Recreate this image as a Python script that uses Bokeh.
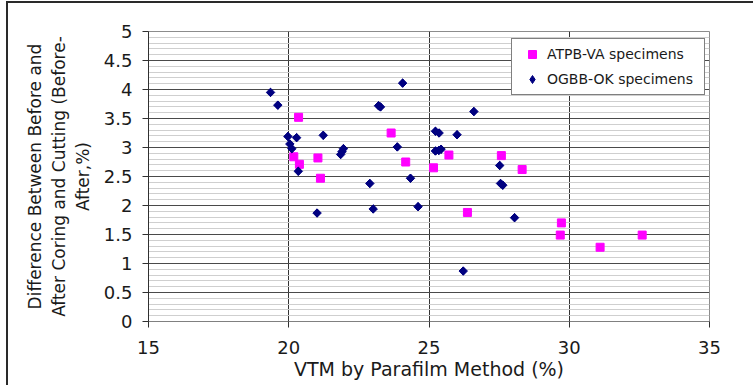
import numpy as np
from bokeh.plotting import figure
from bokeh.layouts import column
from bokeh.models import FixedTicker, Legend, LegendItem, Div
from bokeh.embed import file_html
from bokeh.resources import INLINE

# ATPB-VA specimens (pink squares)
atpb_x = [20.35, 20.18, 20.38, 21.04, 21.13, 23.65, 24.17, 25.16, 25.71, 27.58,
          28.32, 26.37, 29.72, 29.68, 31.10, 32.60]
atpb_y = [3.52, 2.84, 2.71, 2.82, 2.47, 3.25, 2.75, 2.65, 2.87, 2.86,
          2.62, 1.88, 1.70, 1.49, 1.28, 1.49]

# OGBB-OK specimens (navy diamonds)
ogbb_x = [19.35, 19.61, 19.97, 20.28, 20.04, 20.11, 20.34, 21.23, 21.85, 21.90,
          21.95, 23.20, 23.27, 24.06, 23.87, 25.23, 25.36, 25.23, 25.35, 25.43,
          26.00, 26.60, 27.52, 24.34, 22.89, 21.01, 23.01, 24.61, 27.55, 27.63,
          28.05, 26.22]
ogbb_y = [3.95, 3.73, 3.19, 3.17, 3.06, 2.98, 2.59, 3.21, 2.88, 2.93,
          2.98, 3.72, 3.70, 4.11, 3.01, 3.28, 3.25, 2.94, 2.95, 2.97,
          3.22, 3.62, 2.69, 2.47, 2.38, 1.87, 1.94, 1.98, 2.38, 2.35,
          1.79, 0.87]

x_ticks = [15, 20, 25, 30, 35]
y_ticks = [0, 0.5, 1, 1.5, 2, 2.5, 3, 3.5, 4, 4.5, 5]
y_minor = [round(i * 0.1, 1) for i in range(51)]

FONT = "DejaVu Sans"

p = figure(width=745, height=382, x_range=(15, 35), y_range=(0, 5),
           output_backend="svg", toolbar_location=None,
           min_border_left=140, min_border_right=44, min_border_top=28,
           min_border_bottom=64, margin=0,
           styles={"margin-left": "8px",
                   "box-shadow": "-2px 0px 0px 0px #2a2a2a"})

p.background_fill_color = "white"
p.border_fill_color = "white"
p.outline_line_color = "#8c8c8c"
p.outline_line_width = 1

# axes
p.xaxis.ticker = FixedTicker(ticks=x_ticks)
p.yaxis.ticker = FixedTicker(ticks=y_ticks)
p.yaxis.major_label_overrides = {0: "0", 1: "1", 2: "2", 3: "3", 4: "4", 5: "5"}
for ax in (p.xaxis[0], p.yaxis[0]):
    ax.major_tick_out = 6
    ax.major_tick_in = 0
    ax.minor_tick_line_color = None
    ax.major_label_text_font = FONT
    ax.major_label_text_font_size = "18px"
    ax.major_label_text_color = "#1a1a1a"
    ax.axis_label_text_font = FONT
    ax.axis_label_text_font_style = "normal"
    ax.axis_label_text_color = "#1a1a1a"
p.xaxis.axis_label_text_font_size = "19px"
p.yaxis.axis_label_text_font_size = "17px"
p.xaxis.axis_line_color = "#808080"
p.xaxis.major_tick_line_color = "#303030"
p.yaxis.axis_line_color = "#303030"
p.yaxis.major_tick_line_color = "#303030"
p.xaxis.major_label_standoff = 13
p.yaxis.major_label_standoff = 10
p.xaxis.axis_label = "VTM by Parafilm Method (%)"
p.xaxis.axis_label_standoff = 1
p.yaxis.axis_label = "Difference Between Before and\nAfter Coring and Cutting (Before-\nAfter,%)"
p.yaxis.axis_label_standoff = 8

# grids
p.xgrid.ticker = FixedTicker(ticks=[20, 25, 30])
p.xgrid.grid_line_color = "#333333"
p.ygrid.ticker = FixedTicker(ticks=y_ticks, minor_ticks=y_minor)
p.ygrid.grid_line_color = "#4a4a4a"
p.ygrid.minor_grid_line_color = "#cfcfcf"

NAVY = "#000080"
r_atpb = p.scatter(atpb_x, atpb_y, marker="square", size=8,
                   fill_color="#FF00FF", line_color="#FF00FF")
# diamond glyph (used for the legend key) lies inside the rotated-square marks
r_ogbb_key = p.scatter(ogbb_x, ogbb_y, marker="diamond", size=8,
                       fill_color=NAVY, line_color=NAVY)
r_ogbb = p.scatter(ogbb_x, ogbb_y, marker="square", angle=np.pi / 4, size=6,
                   fill_color=NAVY, line_color=NAVY)

legend = Legend(items=[LegendItem(label="ATPB-VA specimens", renderers=[r_atpb]),
                       LegendItem(label="OGBB-OK specimens", renderers=[r_ogbb_key])],
                location=(363, 226), margin=0, padding=5, spacing=5,
                glyph_width=30, glyph_height=20, label_height=20,
                label_width=152, label_standoff=0,
                label_text_font=FONT, label_text_font_size="14px",
                label_text_color="#1a1a1a",
                border_line_color="black", border_line_width=1,
                background_fill_color="white", background_fill_alpha=1.0)
p.add_layout(legend)

# top edge of the outer chart-area border
top_edge = Div(text="", width=747, height=2, margin=0,
               styles={"background-color": "#2a2a2a", "margin-left": "6px",
                       "margin-top": "1px"})

layout = column(top_edge, p, spacing=0, margin=0)

open("out.html", "w").write(file_html(layout, INLINE))
